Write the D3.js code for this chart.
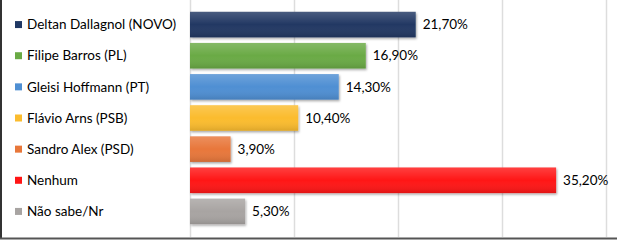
<!DOCTYPE html>
<html><head><meta charset="utf-8">
<script src="https://cdn.jsdelivr.net/npm/d3@7"></script>
<style>
html,body{margin:0;padding:0;background:#fff;}
svg{display:block;}
text{font-family:Lato,"Open Sans",sans-serif;fill:#000;}
</style></head>
<body>
<svg id="chart" width="617" height="244"></svg>
<script>
const categories = ["Deltan Dallagnol (NOVO)","Filipe Barros (PL)","Gleisi Hoffmann (PT)","Flávio Arns (PSB)","Sandro Alex (PSD)","Nenhum","Não sabe/Nr"];
const values = [21.7,16.9,14.3,10.4,3.9,35.2,5.3];
const labels = ["21,70%","16,90%","14,30%","10,40%","3,90%","35,20%","5,30%"];
const colors = ["#203864","#6AAA45","#4F8FD3","#FBBC2E","#E8773A","#FF1515","#A8A4A2"];
const gridTicks = [0,10,20,30,40];

const svg = d3.select("#chart");
const x = d3.scaleLinear().domain([0,40]).range([190,606]);
const y = d3.scaleBand().domain(categories).range([9,227]).paddingInner(0.18).paddingOuter(0.09);

const defs = svg.append("defs");
const f = defs.append("filter").attr("id","sh").attr("x","-5%").attr("y","-20%").attr("width","115%").attr("height","160%");
f.append("feDropShadow").attr("dx",1).attr("dy",1.5).attr("stdDeviation",1).attr("flood-color","#000").attr("flood-opacity",0.35);
const g = defs.append("linearGradient").attr("id","shade").attr("x1",0).attr("y1",0).attr("x2",0).attr("y2",1);
g.append("stop").attr("offset","0%").attr("stop-color","#fff").attr("stop-opacity",0.18);
g.append("stop").attr("offset","50%").attr("stop-color","#fff").attr("stop-opacity",0);
g.append("stop").attr("offset","100%").attr("stop-color","#000").attr("stop-opacity",0.12);

// gridlines
svg.append("g").selectAll("line").data(gridTicks).join("line")
  .attr("x1",d=>x(d)+0.5).attr("x2",d=>x(d)+0.5).attr("y1",0).attr("y2",237)
  .attr("stroke","#DDDDDD").attr("stroke-width",1.5);

// bars
const bars = svg.append("g");
bars.selectAll("rect.b").data(values).join("rect").attr("class","b")
  .attr("x",x(0)).attr("y",(d,i)=>y(categories[i]))
  .attr("width",d=>x(d)-x(0)).attr("height",y.bandwidth())
  .attr("fill",(d,i)=>colors[i]).attr("filter","url(#sh)");
bars.selectAll("rect.s").data(values).join("rect").attr("class","s")
  .attr("x",x(0)).attr("y",(d,i)=>y(categories[i]))
  .attr("width",d=>x(d)-x(0)).attr("height",y.bandwidth())
  .attr("fill","url(#shade)");

// value labels
svg.append("g").selectAll("text").data(values).join("text")
  .attr("x",d=>x(d)+7).attr("y",(d,i)=>y(categories[i])+y.bandwidth()/2)
  .attr("dy","0.35em").attr("font-size",13.5).text((d,i)=>labels[i]);

// legend
const leg = svg.append("g");
leg.selectAll("rect").data(categories).join("rect")
  .attr("x",15).attr("y",d=>y(d)+y.bandwidth()/2-3.5).attr("width",7).attr("height",7)
  .attr("fill",(d,i)=>colors[i]);
leg.selectAll("text").data(categories).join("text")
  .attr("x",27).attr("y",d=>y(d)+y.bandwidth()/2).attr("dy","0.35em")
  .attr("font-size",13.5).text(d=>d);

// frame
svg.append("line").attr("x1",1).attr("x2",1).attr("y1",0).attr("y2",238).attr("stroke","#333").attr("stroke-width",2);
svg.append("line").attr("x1",0).attr("x2",617).attr("y1",238.5).attr("y2",238.5).attr("stroke","#555").attr("stroke-width",2);
</script>
</body></html>
